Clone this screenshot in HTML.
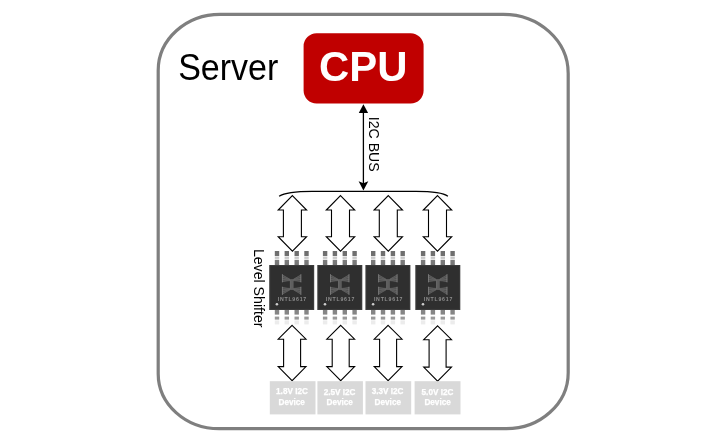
<!DOCTYPE html>
<html>
<head>
<meta charset="utf-8">
<title>Server I2C Level Shifter</title>
<style>
html,body{margin:0;padding:0;background:#fff;}
body{width:720px;height:440px;overflow:hidden;font-family:"Liberation Sans",sans-serif;}
svg{display:block;will-change:transform;}
text{font-family:"Liberation Sans",sans-serif;}
</style>
</head>
<body>
<svg width="720" height="440" viewBox="0 0 720 440">
<defs>
  <linearGradient id="pinTop" x1="0" y1="0" x2="0" y2="1">
    <stop offset="0" stop-color="#6e6e6e"/>
    <stop offset="0.33" stop-color="#707070"/>
    <stop offset="0.36" stop-color="#f4f4f4"/>
    <stop offset="0.46" stop-color="#c8c8c8"/>
    <stop offset="0.56" stop-color="#d0d0d0"/>
    <stop offset="0.64" stop-color="#f4f4f4"/>
    <stop offset="0.67" stop-color="#7c7c7c"/>
    <stop offset="1" stop-color="#777"/>
  </linearGradient>
  <g id="chip">
    <!-- top pins -->
    <g fill="url(#pinTop)">
      <rect x="5.6" y="-14" width="4.4" height="14"/>
      <rect x="15.4" y="-14" width="4.4" height="14"/>
      <rect x="25.3" y="-14" width="4.4" height="14"/>
      <rect x="35.1" y="-14" width="4.4" height="14"/>
    </g>
    <!-- bottom pins -->
    <g>
      <g fill="#858585">
        <rect x="5.6" y="45" width="4.4" height="4.6"/>
        <rect x="15.4" y="45" width="4.4" height="4.6"/>
        <rect x="25.3" y="45" width="4.4" height="4.6"/>
        <rect x="35.1" y="45" width="4.4" height="4.6"/>
      </g>
      <g fill="#999">
        <rect x="5.6" y="51.6" width="4.4" height="3"/>
        <rect x="15.4" y="51.6" width="4.4" height="3"/>
        <rect x="25.3" y="51.6" width="4.4" height="3"/>
        <rect x="35.1" y="51.6" width="4.4" height="3"/>
      </g>
      <g fill="#ececec">
        <rect x="5.6" y="55.4" width="4.4" height="4"/>
        <rect x="15.4" y="55.4" width="4.4" height="4"/>
        <rect x="25.3" y="55.4" width="4.4" height="4"/>
        <rect x="35.1" y="55.4" width="4.4" height="4"/>
      </g>
    </g>
    <!-- body -->
    <rect x="0" y="0" width="45" height="45" fill="#3b3b3b"/>
    <rect x="1.2" y="1.2" width="42.6" height="42.6" fill="#2f2f2f"/>
    <!-- logo -->
    <g>
      <g fill="#4e4e4e">
        <path d="M13,9.6 L20.8,14 L24.2,14 L31.9,9.6 L31.9,17.1 L24.4,15.6 L20.6,15.6 L13,17.1 Z"/>
        <path d="M13,29.5 L20.8,25.1 L24.2,25.1 L31.9,29.5 L31.9,22 L24.4,23.5 L20.6,23.5 L13,22 Z"/>
      </g>
      <g stroke="#747474" stroke-width="0.45" fill="none">
        <path d="M13,9.8 L20.8,14.3 M13,12 L20.8,14.8 M13,14.3 L20.8,15.2 M13,16.6 L20.8,15.6"/>
        <path d="M31.9,9.8 L24.2,14.3 M31.9,12 L24.2,14.8 M31.9,14.3 L24.2,15.2 M31.9,16.6 L24.2,15.6"/>
        <path d="M13,29.3 L20.8,24.8 M13,27.1 L20.8,24.3 M13,24.8 L20.8,23.9 M13,22.5 L20.8,23.5"/>
        <path d="M31.9,29.3 L24.2,24.8 M31.9,27.1 L24.2,24.3 M31.9,24.8 L24.2,23.9 M31.9,22.5 L24.2,23.5"/>
      </g>
      <g stroke="#8a8a8a" stroke-width="0.7">
        <path d="M13.2,9.2 L13.2,17.4 M31.7,9.2 L31.7,17.4 M13.2,21.7 L13.2,29.9 M31.7,21.7 L31.7,29.9"/>
      </g>
      <rect x="20.7" y="14.6" width="3.6" height="9.9" fill="#6a6a6a"/>
      <path d="M21.9,15 L21.9,24 M23.1,15 L23.1,24" stroke="#4a4a4a" stroke-width="0.4"/>
    </g>
    <text transform="translate(8.5,35.6) scale(1,1.04)" font-size="5.2" font-weight="bold" fill="#8f8f8f" letter-spacing="0.78">INTL9617</text>
    <circle cx="7.7" cy="39.2" r="1.3" fill="#cfcfcf"/>
  </g>
  <path id="darrowT" d="M0,0 L14.2,14.4 L9,14.4 L9,41.1 L14.2,41.1 L0,55.5 L-14.2,41.1 L-9,41.1 L-9,14.4 L-14.2,14.4 Z" fill="#fff" stroke="#000" stroke-width="1.1" stroke-linejoin="miter"/>
  <path id="darrowB" d="M0,0 L13.9,13.8 L8.5,13.8 L8.5,41.2 L13.9,41.2 L0,55.2 L-13.9,41.2 L-8.5,41.2 L-8.5,13.8 L-13.9,13.8 Z" fill="#fff" stroke="#000" stroke-width="1.1" stroke-linejoin="miter"/>
</defs>

<!-- outer server frame -->
<path d="M220.2,14.4 H503.2 A65,59 0 0 1 568.2,73.4 V372.7 A62,56 0 0 1 506.2,428.7 H219.2 A61,55 0 0 1 158.2,373.7 V70.4 A62,56 0 0 1 220.2,14.4 Z" fill="#fff" stroke="#7f7f7f" stroke-width="3.2"/>

<!-- Server label -->
<text transform="translate(178.2,79.9) scale(1,1.06)" font-size="34" fill="#000">Server</text>

<!-- CPU -->
<rect x="303.6" y="33.2" width="120" height="70.4" rx="13" ry="13" fill="#c00000"/>
<text transform="translate(363.2,80.7) scale(1,1.03)" font-size="41.9" font-weight="bold" fill="#fff" text-anchor="middle">CPU</text>

<!-- I2C bus arrow -->
<line x1="363.4" y1="110" x2="363.4" y2="184" stroke="#000" stroke-width="1.3"/>
<path d="M363.4,104.2 L368.1,113 L358.8,113 Z" fill="#000"/>
<path d="M363.4,190.5 L368.3,181.3 L363.4,183.2 L358.6,181.3 Z" fill="#000"/>
<text transform="translate(368.9,116.7) rotate(90) scale(1,1.03)" font-size="14.15" fill="#000">I2C BUS</text>

<!-- brace -->
<path d="M279.1,196.2 C286,191.7 300,191.3 312,191.3 L416,191.3 C428,191.3 442,191.7 447.9,196.2" fill="none" stroke="#000" stroke-width="1.2"/>

<!-- top arrows -->
<use href="#darrowT" x="292.4" y="195.6"/>
<use href="#darrowT" x="340.5" y="195.6"/>
<use href="#darrowT" x="388.3" y="195.6"/>
<use href="#darrowT" x="437.5" y="195.6"/>

<!-- chips -->
<use href="#chip" x="269.2" y="265"/>
<use href="#chip" x="317.3" y="265"/>
<use href="#chip" x="365.4" y="265"/>
<use href="#chip" x="415.3" y="265"/>

<!-- Level Shifter label -->
<text transform="translate(253.8,248.9) rotate(90) scale(1,1.04)" font-size="14.15" fill="#000">Level Shifter</text>

<!-- bottom arrows -->
<use href="#darrowB" x="292.1" y="325.4"/>
<use href="#darrowB" x="340.7" y="325.4"/>
<use href="#darrowB" x="388.1" y="325.4"/>
<use href="#darrowB" x="437.6" y="325.9"/>

<!-- device boxes -->
<g fill="#d9d9d9">
  <rect x="269.8" y="381.2" width="45.7" height="33.2"/>
  <rect x="317.4" y="381.2" width="45.5" height="33.2"/>
  <rect x="365.5" y="381.2" width="45.7" height="33.2"/>
  <rect x="414.6" y="381.2" width="45.9" height="33.2"/>
</g>
<g font-size="8.2" font-weight="bold" fill="#fff" stroke="#fff" stroke-width="0.25" text-anchor="middle">
  <text x="292" y="394.3">1.8V I2C</text>
  <text x="291.7" y="405">Device</text>
  <text x="339.6" y="395.2">2.5V I2C</text>
  <text x="339.7" y="405">Device</text>
  <text x="387.6" y="394.3">3.3V I2C</text>
  <text x="387.8" y="405">Device</text>
  <text x="437.5" y="395.2">5.0V I2C</text>
  <text x="437.6" y="405">Device</text>
</g>
</svg>
</body>
</html>
